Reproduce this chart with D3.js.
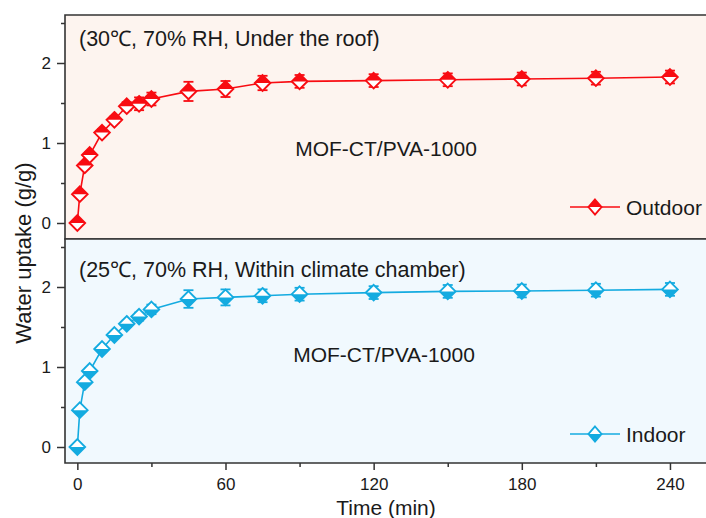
<!DOCTYPE html>
<html>
<head>
<meta charset="utf-8">
<script src="https://cdn.jsdelivr.net/npm/d3@7"></script>
<style>
  html, body { margin: 0; padding: 0; background: #ffffff; }
  svg { display: block; font-family: "Liberation Sans", Arial, sans-serif; }
</style>
</head>
<body>
<svg width="706" height="518"></svg>
<script>
// Time points (min), same for both panels
const times = [0, 1, 3, 5, 10, 15, 20, 25, 30, 45, 60, 75, 90, 120, 150, 180, 210, 240];

// Outdoor (30 C, under the roof)
const outdoorUptake = [0, 0.36, 0.72, 0.85, 1.13, 1.29, 1.46, 1.49, 1.55, 1.645, 1.675, 1.75, 1.77, 1.78, 1.79, 1.80, 1.81, 1.825];
const outdoorError  = [0.02, 0.03, 0.04, 0.04, 0.04, 0.04, 0.05, 0.08, 0.08, 0.12, 0.10, 0.09, 0.08, 0.08, 0.08, 0.08, 0.08, 0.08];

// Indoor (25 C, climate chamber)
const indoorUptake = [0, 0.46, 0.81, 0.95, 1.225, 1.40, 1.54, 1.63, 1.72, 1.85, 1.87, 1.89, 1.91, 1.93, 1.945, 1.95, 1.96, 1.97];
const indoorError  = [0.02, 0.03, 0.03, 0.04, 0.04, 0.04, 0.04, 0.05, 0.06, 0.11, 0.10, 0.08, 0.08, 0.08, 0.08, 0.08, 0.08, 0.08];

const xTicks = [0, 60, 120, 180, 240];
const xMinorTicks = [30, 90, 150, 210];
const yTicks = [0, 1, 2];
const yMinorTicks = [0.5, 1.5, 2.5];

const svg = d3.select('svg');
const left = 65, right = 707;
const axisColor = '#333';

const x = d3.scaleLinear().domain([-5, 255]).range([left, right]);

const panels = [
    {
        top: 15, bottom: 239, bg: '#fdf4ef', color: '#f80c12',
        values: outdoorUptake, errors: outdoorError, fillTop: true,
        note: '(30\u2103, 70% RH, Under the roof)', noteY: 46,
        sampleX: 386, sampleY: 156, legend: 'Outdoor', legendY: 207
    },
    {
        top: 239, bottom: 463, bg: '#f1f9fe', color: '#14abe0',
        values: indoorUptake, errors: indoorError, fillTop: false,
        note: '(25\u2103, 70% RH, Within climate chamber)', noteY: 276.5,
        sampleX: 384, sampleY: 362, legend: 'Indoor', legendY: 434
    }
];

// diamond shapes, w = half width, h = half height
function diamond(w, h) {
    return `M0,${-h}L${w},0L0,${h}L${-w},0Z`;
}
function halfDiamond(w, h, upper) {
    const s = upper ? -h : h;
    return `M${-w},0L0,${s}L${w},0Z`;
}

function drawMarker(g, cx, cy, p, w, h) {
    const m = g.append('g').attr('transform', `translate(${cx},${cy})`);
    m.append('path').attr('d', diamond(w, h)).attr('fill', '#fff');
    m.append('path').attr('d', halfDiamond(w, h, p.fillTop)).attr('fill', p.color);
    m.append('path').attr('d', diamond(w, h))
        .attr('fill', 'none')
        .attr('stroke', p.color)
        .attr('stroke-width', 1.9)
        .attr('stroke-linejoin', 'miter');
}

panels.forEach((p, pi) => {
    const y = d3.scaleLinear().domain([-0.2, 2.6]).range([p.bottom, p.top]);
    const g = svg.append('g');

    // background
    g.append('rect')
        .attr('x', left).attr('y', p.top)
        .attr('width', right - left).attr('height', p.bottom - p.top)
        .attr('fill', p.bg);

    const data = times.map((t, i) => ({ t: t, v: p.values[i], e: p.errors[i] }));

    // connecting line
    g.append('path')
        .datum(data)
        .attr('fill', 'none')
        .attr('stroke', p.color)
        .attr('stroke-width', 1.6)
        .attr('d', d3.line().x(d => x(d.t)).y(d => y(d.v)));

    // error bars
    const capW = 5;
    data.forEach(d => {
        const eb = g.append('g').attr('stroke', p.color).attr('stroke-width', 1.8);
        eb.append('line').attr('x1', x(d.t)).attr('x2', x(d.t)).attr('y1', y(d.v - d.e)).attr('y2', y(d.v + d.e));
        eb.append('line').attr('x1', x(d.t) - capW).attr('x2', x(d.t) + capW).attr('y1', y(d.v + d.e)).attr('y2', y(d.v + d.e));
        eb.append('line').attr('x1', x(d.t) - capW).attr('x2', x(d.t) + capW).attr('y1', y(d.v - d.e)).attr('y2', y(d.v - d.e));
    });

    // markers
    data.forEach(d => drawMarker(g, x(d.t), y(d.v), p, 7.8, 7.8));

    // left axis, major + minor
    g.append('g')
        .attr('transform', `translate(${left},0)`)
        .call(d3.axisLeft(y).tickValues(yTicks).tickSize(8).tickPadding(6).tickFormat(d3.format('d')));
    g.append('g')
        .attr('transform', `translate(${left},0)`)
        .call(d3.axisLeft(y).tickValues(yMinorTicks).tickSize(4).tickFormat(''));

    // bottom axis, major + minor
    g.append('g')
        .attr('transform', `translate(0,${p.bottom})`)
        .call(d3.axisBottom(x).tickValues(xTicks).tickSize(7).tickPadding(8)
            .tickFormat(pi === 1 ? d3.format('d') : ''));
    g.append('g')
        .attr('transform', `translate(0,${p.bottom})`)
        .call(d3.axisBottom(x).tickValues(xMinorTicks).tickSize(4).tickFormat(''));

    g.selectAll('.domain').remove();
    g.selectAll('.tick line').attr('stroke', axisColor).attr('stroke-width', 1.5);
    g.selectAll('.tick text')
        .attr('fill', '#1a1a1a')
        .style('font-size', '17px')
        .style('font-family', '"Liberation Sans", Arial, sans-serif');

    // frame lines (left, top, bottom)
    g.append('path')
        .attr('d', `M${right},${p.top}H${left}V${p.bottom}H${right}`)
        .attr('fill', 'none')
        .attr('stroke', axisColor)
        .attr('stroke-width', 1.6);

    // annotations
    g.append('text')
        .attr('x', 79).attr('y', p.noteY)
        .attr('fill', '#1a1a1a')
        .style('font-size', '21.5px')
        .text(p.note);
    g.append('text')
        .attr('x', p.sampleX).attr('y', p.sampleY)
        .attr('text-anchor', 'middle')
        .attr('fill', '#1a1a1a')
        .style('font-size', '21px')
        .text('MOF-CT/PVA-1000');

    // legend
    g.append('line')
        .attr('x1', 570).attr('x2', 620)
        .attr('y1', p.legendY).attr('y2', p.legendY)
        .attr('stroke', p.color).attr('stroke-width', 1.6);
    drawMarker(g, 595, p.legendY, p, 6.5, 7.5);
    g.append('text')
        .attr('x', 626).attr('y', p.legendY + 7.5)
        .attr('fill', '#1a1a1a')
        .style('font-size', '21px')
        .text(p.legend);
});

// axis titles
svg.append('text')
    .attr('x', 386).attr('y', 515)
    .attr('text-anchor', 'middle')
    .attr('fill', '#1a1a1a')
    .style('font-size', '21px')
    .text('Time (min)');

svg.append('text')
    .attr('transform', 'translate(31,253) rotate(-90)')
    .attr('text-anchor', 'middle')
    .attr('fill', '#1a1a1a')
    .style('font-size', '22px')
    .text('Water uptake (g/g)');
</script>
</body>
</html>
